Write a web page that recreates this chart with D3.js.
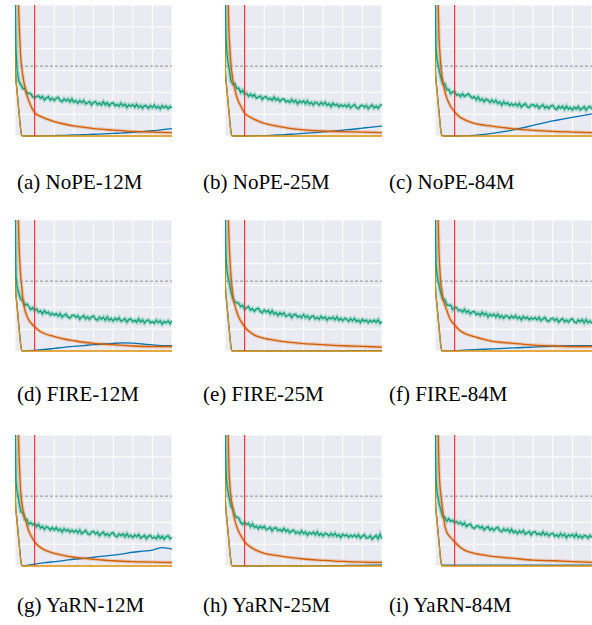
<!DOCTYPE html>
<html>
<head>
<meta charset="utf-8">
<script src="https://cdn.jsdelivr.net/npm/d3@7"></script>
<style>
  body { margin: 0; background: #fff; }
  svg { display: block; }
</style>
</head>
<body>
<svg id="chart" width="592" height="625"></svg>
<script>
// x positions (training progress, 8 grid units), y = loss-like value
const steps = [0, 0.05, 0.1, 0.15, 0.2].concat(d3.range(3, 81).map(i => i / 10));
const orangeSteps = [0.12, 0.15, 0.2, 0.25, 0.3, 0.35, 0.4, 0.5, 0.6, 0.7, 0.8, 1.0, 1.25, 1.5, 2, 2.5, 3, 3.5, 4, 5, 6, 7, 8];
const blueSteps = [0, 0.02, 0.1, 0.2, 0.3, 0.35, 0.5, 1, 1.5, 2, 2.5, 3, 3.5, 4, 4.5, 5, 5.5, 6, 6.5, 7, 7.5, 8];

const captions = ["(a) NoPE-12M", "(b) NoPE-25M", "(c) NoPE-84M",
                  "(d) FIRE-12M", "(e) FIRE-25M", "(f) FIRE-84M",
                  "(g) YaRN-12M", "(h) YaRN-25M", "(i) YaRN-84M"];
const refLevel = 3.2;   // dashed horizontal line
const cutoff = 1;       // red vertical line

// green (noisy) series
const greenA = [7, 4.0, 3.1, 2.75, 2.5,
  2.34,2.17,2.18,1.97,1.96,1.94,1.80,1.74,1.82,1.84,
  1.73,1.81,1.65,1.74,1.80,1.65,1.73,1.62,1.73,1.77,
  1.62,1.57,1.70,1.61,1.69,1.56,1.70,1.55,1.62,1.50,
  1.62,1.53,1.63,1.47,1.52,1.58,1.42,1.54,1.57,1.44,
  1.51,1.42,1.57,1.43,1.52,1.38,1.49,1.52,1.38,1.45,
  1.36,1.50,1.38,1.46,1.31,1.43,1.36,1.44,1.32,1.45,
  1.30,1.39,1.27,1.40,1.37,1.27,1.40,1.30,1.42,1.28,
  1.36,1.24,1.39,1.30,1.37,1.25,1.35,1.28];
const greenB = [7, 4.5, 3.8, 3.4, 3.15,
  2.54,2.37,2.39,2.18,2.19,1.99,2.09,1.91,1.96,1.82,
  1.92,1.81,1.90,1.73,1.78,1.83,1.67,1.78,1.80,1.67,
  1.73,1.64,1.78,1.64,1.72,1.58,1.68,1.70,1.56,1.62,
  1.53,1.67,1.55,1.63,1.47,1.60,1.53,1.61,1.48,1.61,
  1.46,1.54,1.42,1.55,1.51,1.42,1.54,1.44,1.55,1.41,
  1.48,1.35,1.50,1.40,1.46,1.34,1.43,1.35,1.43,1.33,
  1.44,1.29,1.37,1.44,1.30,1.26,1.38,1.41,1.31,1.40,
  1.25,1.35,1.42,1.28,1.37,1.27,1.39,1.44];
const greenC = [7, 4.0, 3.5, 3.3, 3.05,
  2.67,2.39,2.39,2.12,2.13,1.94,2.02,2.03,1.87,1.91,
  1.81,1.94,1.81,1.88,1.93,1.82,1.74,1.80,1.66,1.79,
  1.62,1.70,1.57,1.69,1.64,1.54,1.65,1.53,1.64,1.49,
  1.56,1.42,1.57,1.46,1.52,1.40,1.48,1.39,1.48,1.37,
  1.49,1.33,1.42,1.48,1.34,1.30,1.42,1.44,1.34,1.42,
  1.27,1.36,1.43,1.28,1.36,1.26,1.37,1.41,1.27,1.22,
  1.36,1.27,1.36,1.22,1.37,1.23,1.30,1.19,1.32,1.24,
  1.35,1.20,1.26,1.34,1.19,1.32,1.35,1.23];
const greenD = [7, 3.4, 3.0, 2.8, 2.62,
  2.36,2.33,2.10,2.15,2.05,1.90,1.98,1.84,1.93,1.78,
  1.84,1.70,1.84,1.73,1.78,1.65,1.73,1.64,1.71,1.60,
  1.71,1.55,1.63,1.69,1.55,1.51,1.62,1.64,1.54,1.62,
  1.46,1.56,1.62,1.47,1.56,1.45,1.56,1.60,1.46,1.41,
  1.55,1.46,1.55,1.41,1.56,1.41,1.49,1.37,1.50,1.41,
  1.52,1.36,1.41,1.48,1.32,1.44,1.47,1.34,1.41,1.32,
  1.47,1.33,1.42,1.28,1.39,1.42,1.29,1.35,1.27,1.41,
  1.30,1.38,1.23,1.35,1.29,1.38,1.25,1.39];
const greenE = [7, 4.3, 3.7, 3.4, 3.2,
  2.73,2.41,2.24,2.22,2.18,2.03,2.09,1.91,1.98,2.03,
  1.87,1.94,1.82,1.93,1.96,1.81,1.75,1.88,1.78,1.86,
  1.71,1.85,1.69,1.76,1.63,1.75,1.65,1.75,1.58,1.63,
  1.69,1.53,1.66,1.68,1.55,1.61,1.52,1.67,1.53,1.61,
  1.47,1.58,1.61,1.47,1.54,1.45,1.59,1.48,1.56,1.41,
  1.53,1.47,1.55,1.43,1.56,1.41,1.49,1.38,1.50,1.46,
  1.36,1.48,1.38,1.49,1.35,1.42,1.30,1.45,1.35,1.42,
  1.30,1.40,1.33,1.41,1.31,1.43,1.27,1.36];
const greenF = [7, 4.0, 3.5, 3.25, 3.05,
  2.63,2.37,2.36,2.11,2.09,2.10,1.90,2.00,1.99,1.84,
  1.88,1.78,1.91,1.76,1.84,1.69,1.79,1.81,1.67,1.73,
  1.63,1.77,1.65,1.73,1.56,1.68,1.61,1.69,1.55,1.69,
  1.53,1.62,1.50,1.62,1.59,1.49,1.61,1.51,1.62,1.48,
  1.56,1.43,1.58,1.48,1.55,1.43,1.52,1.45,1.53,1.43,
  1.54,1.39,1.47,1.54,1.39,1.36,1.47,1.50,1.39,1.48,
  1.32,1.42,1.48,1.34,1.42,1.32,1.43,1.48,1.33,1.29,
  1.42,1.34,1.43,1.29,1.44,1.30,1.37,1.26];
const greenG = [7, 3.9, 3.45, 3.25, 2.95,
  2.48,2.44,2.15,2.14,1.91,1.99,1.89,1.95,1.80,1.91,
  1.74,1.81,1.68,1.80,1.75,1.65,1.76,1.65,1.76,1.62,
  1.69,1.56,1.71,1.61,1.67,1.55,1.64,1.55,1.63,1.52,
  1.64,1.48,1.56,1.63,1.48,1.44,1.56,1.58,1.47,1.55,
  1.39,1.49,1.55,1.40,1.48,1.37,1.49,1.53,1.38,1.34,
  1.47,1.39,1.47,1.34,1.48,1.34,1.41,1.30,1.42,1.34,
  1.44,1.28,1.34,1.40,1.25,1.37,1.40,1.27,1.33,1.25,
  1.40,1.27,1.36,1.23,1.34,1.38,1.25,1.32];
const greenH = [7, 4.4, 3.7, 3.4, 3.2,
  2.74,2.61,2.31,2.23,2.20,1.99,1.91,2.02,1.90,1.96,
  1.80,1.93,1.77,1.83,1.71,1.82,1.73,1.82,1.66,1.71,
  1.77,1.61,1.73,1.75,1.62,1.68,1.59,1.72,1.58,1.66,
  1.52,1.61,1.64,1.50,1.56,1.47,1.61,1.48,1.56,1.41,
  1.53,1.47,1.55,1.43,1.56,1.41,1.49,1.37,1.50,1.46,
  1.37,1.49,1.38,1.50,1.36,1.43,1.31,1.46,1.37,1.43,
  1.32,1.41,1.34,1.42,1.32,1.43,1.28,1.36,1.43,1.28,
  1.30,1.39,1.23,1.33,1.40,1.25,1.45,1.24];
const greenI = [7, 4.0, 3.4, 3.15, 2.9,
  2.56,2.25,2.23,2.05,2.16,2.04,2.09,1.97,2.04,1.94,
  2.00,1.88,1.98,1.81,1.88,1.93,1.77,1.72,1.82,1.84,
  1.73,1.81,1.65,1.74,1.80,1.65,1.73,1.62,1.73,1.77,
  1.62,1.57,1.70,1.61,1.69,1.55,1.69,1.53,1.60,1.48,
  1.61,1.52,1.62,1.46,1.52,1.58,1.42,1.55,1.57,1.44,
  1.50,1.42,1.56,1.42,1.50,1.37,1.47,1.50,1.36,1.43,
  1.34,1.49,1.37,1.46,1.30,1.43,1.36,1.45,1.32,1.46,
  1.30,1.39,1.28,1.40,1.37,1.28,1.40,1.30];

// vermilion series
const orangeA = [8, 7.0, 5.4, 4.3, 3.5, 3.1, 2.75, 2.25, 1.9, 1.62, 1.40, 1.07, 0.92, 0.82, 0.66, 0.55, 0.46, 0.40, 0.34, 0.27, 0.21, 0.18, 0.15];
const orangeB = [8, 6.6, 4.8, 4.0, 3.3, 2.9, 2.6, 2.15, 1.8, 1.55, 1.38, 1.05, 0.88, 0.76, 0.58, 0.48, 0.40, 0.33, 0.28, 0.23, 0.20, 0.18, 0.15];
const orangeC = [8, 6.4, 4.6, 3.8, 3.2, 2.8, 2.5, 2.05, 1.75, 1.52, 1.35, 1.11, 0.88, 0.75, 0.58, 0.50, 0.44, 0.38, 0.33, 0.26, 0.21, 0.18, 0.15];
const orangeD = [8, 6.8, 5.0, 4.0, 3.3, 2.9, 2.4, 1.9, 1.62, 1.43, 1.30, 1.11, 0.92, 0.80, 0.66, 0.55, 0.47, 0.40, 0.35, 0.29, 0.23, 0.20, 0.20];
const orangeE = [8, 6.8, 5.2, 4.2, 3.5, 3.0, 2.55, 2.1, 1.80, 1.55, 1.38, 1.11, 0.88, 0.73, 0.58, 0.50, 0.43, 0.38, 0.34, 0.29, 0.24, 0.21, 0.18];
const orangeF = [8, 6.4, 4.6, 3.7, 3.1, 2.79, 2.45, 2.1, 1.88, 1.6, 1.42, 1.19, 0.95, 0.81, 0.66, 0.53, 0.43, 0.39, 0.35, 0.27, 0.23, 0.20, 0.20];
const orangeG = [8, 7.0, 5.2, 4.1, 3.3, 2.9, 2.6, 2.2, 1.9, 1.6, 1.42, 1.11, 0.88, 0.74, 0.58, 0.48, 0.40, 0.35, 0.31, 0.24, 0.20, 0.18, 0.16];
const orangeH = [8, 6.4, 4.5, 3.7, 3.2, 2.9, 2.6, 2.1, 1.8, 1.57, 1.40, 1.11, 0.90, 0.76, 0.58, 0.50, 0.43, 0.37, 0.32, 0.26, 0.21, 0.18, 0.17];
const orangeI = [8, 6.6, 4.6, 3.7, 3.25, 2.9, 2.5, 1.85, 1.55, 1.4, 1.3, 1.11, 0.88, 0.73, 0.58, 0.50, 0.43, 0.39, 0.35, 0.27, 0.24, 0.20, 0.17];

// blue series
const blueA = [7, 3.0, 2.1, 1.15, 0.25, 0.02, 0.0, 0.0, 0.01, 0.02, 0.03, 0.05, 0.06, 0.08, 0.10, 0.12, 0.14, 0.17, 0.20, 0.24, 0.29, 0.34];
const blueB = [7, 3.0, 2.1, 1.15, 0.25, 0.02, 0.0, 0.0, 0.01, 0.02, 0.04, 0.06, 0.09, 0.12, 0.15, 0.19, 0.22, 0.27, 0.31, 0.36, 0.41, 0.45];
const blueC = [7, 3.0, 2.1, 1.15, 0.25, 0.02, 0.0, 0.0, 0.01, 0.03, 0.07, 0.13, 0.20, 0.28, 0.38, 0.49, 0.59, 0.69, 0.77, 0.85, 0.93, 1.01];
const blueD = [7, 3.0, 2.1, 1.15, 0.25, 0.02, 0.01, 0.03, 0.07, 0.12, 0.17, 0.21, 0.25, 0.29, 0.32, 0.35, 0.37, 0.36, 0.32, 0.28, 0.25, 0.24];
const blueE = [7, 3.0, 2.1, 1.15, 0.25, 0.02, 0.01, 0.01, 0.01, 0.01, 0.01, 0.01, 0.01, 0.01, 0.01, 0.01, 0.01, 0.01, 0.02, 0.02, 0.02, 0.02];
const blueF = [7, 3.0, 2.1, 1.15, 0.25, 0.02, 0.01, 0.02, 0.04, 0.06, 0.08, 0.10, 0.12, 0.14, 0.16, 0.18, 0.20, 0.22, 0.23, 0.24, 0.25, 0.25];
const blueG = [7, 3.0, 2.1, 1.15, 0.25, 0.02, 0.02, 0.09, 0.15, 0.20, 0.25, 0.31, 0.35, 0.40, 0.45, 0.50, 0.56, 0.63, 0.68, 0.73, 0.84, 0.77];
const blueH = [7, 3.0, 2.1, 1.15, 0.25, 0.02, 0.0, 0.0, 0.0, 0.0, 0.01, 0.01, 0.01, 0.01, 0.01, 0.01, 0.02, 0.02, 0.03, 0.03, 0.04, 0.05];
const blueI = [7, 3.0, 2.1, 1.15, 0.25, 0.04, 0.04, 0.04, 0.04, 0.04, 0.04, 0.04, 0.04, 0.04, 0.04, 0.04, 0.04, 0.04, 0.04, 0.04, 0.04, 0.04];

// gold series (same shape in every panel)
const goldLoss = [7, 3.0, 2.1, 1.1, 0.2, 0.0, 0.0, 0.0, 0.0, 0.0, 0.0, 0.0, 0.0, 0.0, 0.0, 0.0, 0.0, 0.0, 0.0, 0.0, 0.0, 0.0];

const greens = [greenA, greenB, greenC, greenD, greenE, greenF, greenG, greenH, greenI];
const oranges = [orangeA, orangeB, orangeC, orangeD, orangeE, orangeF, orangeG, orangeH, orangeI];
const blues = [blueA, blueB, blueC, blueD, blueE, blueF, blueG, blueH, blueI];

const colLeft = [15, 225, 435];
const rowTop = [5, 220, 435];
const captionX = [17, 203, 389];
const captionY = [189, 401, 612];
const W = 157, H = 131;

const x = d3.scaleLinear().domain([0, 8]).range([0, W]);
const y = d3.scaleLinear().domain([0, 6]).range([H, 0]);

const svg = d3.select('#chart');
const smooth = d3.line().x(d => x(d[0])).y(d => y(d[1])).curve(d3.curveMonotoneX);
const raw = d3.line().x(d => x(d[0])).y(d => y(d[1]));

captions.forEach((cap, i) => {
    const r = Math.floor(i / 3), c = i % 3;
    const g = svg.append('g').attr('transform', `translate(${colLeft[c]},${rowTop[r]})`);
    g.append('clipPath').attr('id', 'clip' + i)
        .append('rect').attr('x', 0).attr('y', 0).attr('width', W).attr('height', H + 1);
    g.append('rect').attr('width', W).attr('height', H).attr('fill', '#eaeaf2');
    //grid
    g.selectAll('.vg').data(x.ticks(8)).join('line')
        .attr('x1', d => x(d)).attr('x2', d => x(d)).attr('y1', 0).attr('y2', H)
        .attr('stroke', '#fff').attr('stroke-width', 1);
    g.selectAll('.hg').data(y.ticks(6)).join('line')
        .attr('y1', d => y(d)).attr('y2', d => y(d)).attr('x1', 0).attr('x2', W)
        .attr('stroke', '#fff').attr('stroke-width', 1);

    const plot = g.append('g').attr('clip-path', `url(#clip${i})`);
    const green = steps.map((s, k) => [s, greens[i][k]]);
    const orange = orangeSteps.map((s, k) => [s, oranges[i][k]]);
    const blue = blueSteps.map((s, k) => [s, blues[i][k]]);
    const gold = blueSteps.map((s, k) => [s, goldLoss[k]]);

    plot.append('path').attr('d', smooth(blue)).attr('fill', 'none')
        .attr('stroke', '#0173b2').attr('stroke-width', 1.3);
    plot.append('path').attr('d', smooth(gold)).attr('fill', 'none')
        .attr('stroke', '#de8f05').attr('stroke-width', 1.3);
    // light band behind the noisy green
    plot.append('path').attr('d', raw(green)).attr('fill', 'none')
        .attr('stroke', '#029e73').attr('stroke-opacity', 0.3).attr('stroke-width', 4);
    plot.append('path').attr('d', raw(green)).attr('fill', 'none')
        .attr('stroke', '#029e73').attr('stroke-width', 1.2);
    plot.append('path').attr('d', smooth(orange)).attr('fill', 'none')
        .attr('stroke', '#d55e00').attr('stroke-opacity', 0.25).attr('stroke-width', 3.5);
    plot.append('path').attr('d', smooth(orange)).attr('fill', 'none')
        .attr('stroke', '#d55e00').attr('stroke-width', 1.3);

    g.append('line').attr('x1', 0).attr('x2', W).attr('y1', y(refLevel)).attr('y2', y(refLevel))
        .attr('stroke', '#888').attr('stroke-width', 0.9).attr('stroke-dasharray', '3,2');
    g.append('line').attr('x1', x(cutoff)).attr('x2', x(cutoff)).attr('y1', 0).attr('y2', H)
        .attr('stroke', '#ff3333').attr('stroke-width', 1.2);

    svg.append('text').attr('x', captionX[c]).attr('y', captionY[r])
        .attr('font-family', '"Liberation Serif", "Times New Roman", serif')
        .attr('font-size', 21).attr('fill', '#000')
        .text(cap);
});
</script>
</body>
</html>
